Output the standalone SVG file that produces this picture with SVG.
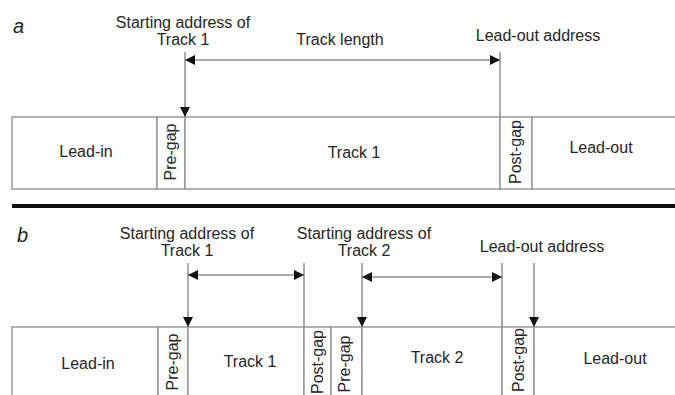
<svg xmlns="http://www.w3.org/2000/svg" width="675" height="395" viewBox="0 0 675 395">
<style>
.cell{fill:#fff;stroke:#999;stroke-width:1.5}
.ln{stroke:#8f8f8f;stroke-width:1.5;fill:none}
.t{font-family:"Liberation Sans",Arial,sans-serif;font-size:16px;fill:#262626;text-anchor:middle}
.v{font-family:"Liberation Sans",Arial,sans-serif;font-size:16px;fill:#262626;text-anchor:middle}
.p{font-family:"Liberation Sans",Arial,sans-serif;font-size:20px;font-style:italic;fill:#262626}
</style>
<defs>
<marker id="ah" markerUnits="userSpaceOnUse" markerWidth="10" markerHeight="10" refX="10" refY="5" orient="auto-start-reverse">
<path d="M0,0 L10,5 L0,10 Z" fill="#111"/>
</marker>
</defs>
<rect width="675" height="395" fill="#fff"/>

<text class="p" x="13" y="33">a</text>
<text class="p" x="17" y="242">b</text>

<!-- panel a -->
<g id="a-leadin"><rect class="cell" x="12" y="117" width="145" height="72"/><text class="t" x="86" y="157">Lead-in</text></g>
<g id="a-pregap"><rect class="cell" x="157" y="117" width="28" height="72"/><text class="v" transform="translate(170,152) rotate(-90)" dy="0.35em">Pre-gap</text></g>
<g id="a-track1"><rect class="cell" x="185" y="117" width="315" height="72"/><text class="t" x="354" y="158">Track 1</text></g>
<g id="a-postgap"><rect class="cell" x="500" y="117" width="32" height="72"/><text class="v" transform="translate(515,152) rotate(-90)" dy="0.35em">Post-gap</text></g>
<g id="a-leadout"><rect class="cell" x="532" y="117" width="150" height="72"/><text class="t" x="601" y="153">Lead-out</text></g>

<g id="a-start-label"><text class="t" x="183" y="28">Starting address of</text><text class="t" x="183" y="45">Track 1</text></g>
<g id="a-length-label"><text class="t" x="340" y="45">Track length</text></g>
<g id="a-leadout-label"><text class="t" x="538" y="41">Lead-out address</text></g>

<!-- separator -->
<line x1="12" y1="206" x2="675" y2="206" stroke="#111" stroke-width="4"/>

<!-- panel b -->
<g id="b-leadin"><rect class="cell" x="12" y="327" width="146" height="80"/><text class="t" x="88" y="369">Lead-in</text></g>
<g id="b-pregap1"><rect class="cell" x="158" y="327" width="30" height="80"/><text class="v" transform="translate(172,362) rotate(-90)" dy="0.35em">Pre-gap</text></g>
<g id="b-track1"><rect class="cell" x="188" y="327" width="116" height="80"/><text class="t" x="250" y="367">Track 1</text></g>
<g id="b-postgap1"><rect class="cell" x="304" y="327" width="27" height="80"/><text class="v" transform="translate(317,362) rotate(-90)" dy="0.35em">Post-gap</text></g>
<g id="b-pregap2"><rect class="cell" x="331" y="327" width="31" height="80"/><text class="v" transform="translate(344,364) rotate(-90)" dy="0.35em">Pre-gap</text></g>
<g id="b-track2"><rect class="cell" x="362" y="327" width="140" height="80"/><text class="t" x="437" y="363">Track 2</text></g>
<g id="b-postgap2"><rect class="cell" x="502" y="327" width="32" height="80"/><text class="v" transform="translate(518,360) rotate(-90)" dy="0.35em">Post-gap</text></g>
<g id="b-leadout"><rect class="cell" x="534" y="327" width="150" height="80"/><text class="t" x="615" y="364">Lead-out</text></g>

<g id="b-start1-label"><text class="t" x="187" y="239">Starting address of</text><text class="t" x="187" y="256">Track 1</text></g>
<g id="b-start2-label"><text class="t" x="364" y="239">Starting address of</text><text class="t" x="364" y="256">Track 2</text></g>
<g id="b-leadout-label"><text class="t" x="542" y="252">Lead-out address</text></g>

<g id="connectors">
<line class="ln" x1="185" y1="52" x2="185" y2="117" marker-end="url(#ah)"/>
<line class="ln" x1="500" y1="52" x2="500" y2="117"/>
<line class="ln" x1="185" y1="60" x2="500" y2="60" marker-start="url(#ah)" marker-end="url(#ah)"/>

<line class="ln" x1="188" y1="263" x2="188" y2="327" marker-end="url(#ah)"/>
<line class="ln" x1="304" y1="263" x2="304" y2="327"/>
<line class="ln" x1="188" y1="275" x2="304" y2="275" marker-start="url(#ah)" marker-end="url(#ah)"/>
<line class="ln" x1="362" y1="263" x2="362" y2="327" marker-end="url(#ah)"/>
<line class="ln" x1="502" y1="263" x2="502" y2="327"/>
<line class="ln" x1="362" y1="277" x2="502" y2="277" marker-start="url(#ah)" marker-end="url(#ah)"/>
<line class="ln" x1="534" y1="263" x2="534" y2="327" marker-end="url(#ah)"/>
</g>
</svg>
